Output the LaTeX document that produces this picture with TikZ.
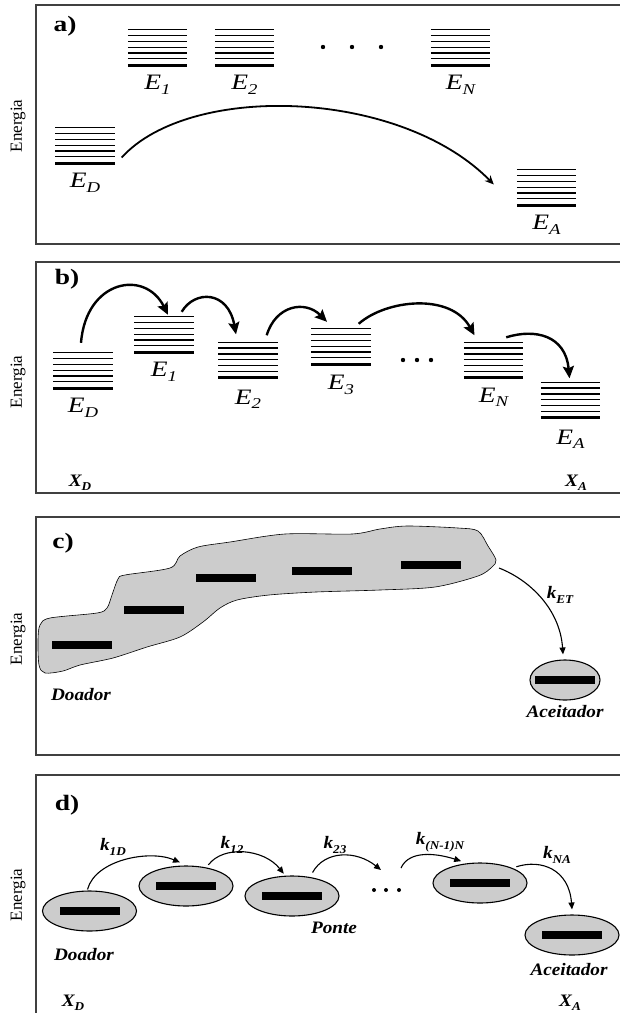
\documentclass[tikz,border=0pt]{standalone}
\usepackage{fontspec}
\setmainfont{Liberation Serif}[FakeStretch=1.25]
\newfontfamily\enfont{Liberation Serif}
\newfontfamily\bifont{Liberation Serif}[FakeStretch=1.1]
\usetikzlibrary{positioning, arrows.meta, calc, shapes.geometric}
\newcommand{\lsub}[2][15]{\raisebox{-4.5pt}{\fontsize{#1}{#1}\selectfont #2}}

\begin{document}
\begin{tikzpicture}[x=1pt,y=-1pt,
  lv/.style={minimum width=59pt,minimum height=35pt,inner sep=0pt},
  el/.style={font=\fontsize{22}{22}\selectfont\itshape,inner sep=0pt},
  tag/.style={font=\fontsize{22}{22}\selectfont\bfseries,inner sep=0pt},
  en/.style={font=\enfont\fontsize{17}{17}\selectfont,rotate=90,inner sep=0pt},
  bi/.style={font=\bifont\fontsize{17.5}{17.5}\selectfont\bfseries\itshape,inner sep=0pt},
  bar/.style={fill=black,minimum width=60pt,minimum height=8pt,inner sep=0pt},
  orb/.style={ellipse,draw,line width=1.1pt,fill=black!20,minimum width=94pt,minimum height=40pt,inner sep=0pt},
  panel/.style={draw=black!75,line width=1.2pt},
  far/.style={-{Stealth[length=9pt,width=8pt]},line width=1.8pt},
  hop/.style={-{Stealth[length=12pt,width=11pt,inset=2pt]},line width=2.4pt},
  jump/.style={-{Triangle[length=7pt,width=6pt]},line width=1.1pt}]
  \clip (0,0) rectangle (620,1013);
  \draw[panel] (640,5) -- (36,5) -- (36,244) -- (640,244);
  \draw[panel] (640,262) -- (36,262) -- (36,493) -- (640,493);
  \draw[panel] (640,517) -- (36,517) -- (36,755) -- (640,755);
  \draw[panel] (640,775) -- (36,775) -- (36,1030);
  \foreach \y in {126,382,639,895}
    \node[en] at (18,\y) {Energia};

  % a) levels far apart
  \node[tag] (ta) at (65,26) {a)};
  \node[lv] (a1) at (157.5,47.5) {};
  \node[lv] (a2) at (244.5,47.5) {};
  \node[lv] (aN) at (460.5,47.5) {};
  \node[lv] (aD) at (85,145.5) {};
  \node[lv] (aA) at (546.5,187.5) {};
  \foreach \x in {323,352,381}
    \fill (\x,47) circle (2.2);
  \node[el,below=10pt of a1] (la1) {E\lsub{1}};
  \node[el,below=10pt of a2] (la2) {E\lsub{2}};
  \node[el,below=10pt of aN] (laN) {E\lsub{N}};
  \node[el,below=10pt of aD] (laD) {E\lsub{D}};
  \node[el,below=10pt of aA] (laA) {E\lsub{A}};
  \draw[far] ([shift={(7,12)}]aD.east) .. controls +(68,-75) and +(-94,-96) .. ([shift={(-23,-3)}]aA.west);

  % b) hopping
  \node[tag] (tb) at (67,279) {b)};
  \node[lv] (bD) at (83,370.5) {};
  \node[lv] (b1) at (164,334.5) {};
  \node[lv] (b2) at (248,360) {};
  \node[lv] (b3) at (341,346.5) {};
  \node[lv] (bN) at (493.5,360) {};
  \node[lv] (bA) at (570.5,400) {};
  \foreach \x in {403,417,431}
    \fill (\x,360) circle (2.2);
  \node[el,below=10pt of bD] (lbD) {E\lsub{D}};
  \node[el,below=10pt of b1] (lb1) {E\lsub{1}};
  \node[el,below=12pt of b2] (lb2) {E\lsub{2}};
  \node[el,below=11pt of b3] (lb3) {E\lsub{3}};
  \node[el,below=10pt of bN] (lbN) {E\lsub{N}};
  \node[el,below=12pt of bA] (lbA) {E\lsub{A}};
  \node[bi] (xb1) at (80,483) {X\lsub[12]{D}};
  \node[bi] (xb2) at (576,483) {X\lsub[12]{A}};
  \draw[hop] ([shift={(-2,-10)}]bD.north) .. controls +(5,-63) and +(-23,-46) .. ([shift={(4,-2)}]b1.north);
  \draw[hop] ([shift={(-12,-5)}]b1.north east) .. controls +(13,-22) and +(-8,-44) .. ([shift={(-12,-8)}]b2.north);
  \draw[hop] ([shift={(-11,-7)}]b2.north east) .. controls +(9,-30) and +(-22,-22) .. ([shift={(-14,-7)}]b3.north);
  \draw[hop] ([shift={(-12,-5)}]b3.north east) .. controls +(27,-24) and +(-24,-43) .. ([shift={(-19,-7)}]bN.north);
  \draw[hop] ([shift={(-17,-5)}]bN.north east) .. controls +(29,-9) and +(-4,-43) .. ([shift={(-1,-4)}]bA.north);

  % c) delocalised donor
  \node[tag] (tc) at (63,543) {c)};
  \draw[fill=black!20,line width=0.6pt] plot[smooth cycle,tension=0.5] coordinates {
    (40,625) (50,618) (97,613) (107,608) (112,595) (118,579) (125,575) (170,568)
    (180,556) (198,547) (230,542) (285,534) (352,534) (380,529) (407,526) (458,528)
    (478,531) (488,546) (496,560) (492,567) (478,576) (435,587) (380,590) (316,592)
    (269,595) (237,600) (220,608) (203,622) (180,637) (147,647) (113,658) (80,665)
    (63,671) (45,673) (39,665) (38,640)};
  \coordinate (ctip) at (499,568);
  \node[bar] (c1) at (82,645) {};
  \node[bar] (c2) at (154,610) {};
  \node[bar] (c3) at (226,578) {};
  \node[bar] (c4) at (322,571) {};
  \node[bar] (c5) at (431,565) {};
  \node[orb,minimum width=70pt] (cA) at (565,680) {};
  \node[bar] (cAb) at (cA) {};
  \node[bi] (lcD) at (81,695) {Doador};
  \node[bi] (lcA) at (565,712) {Aceitador};
  \node[bi] (kET) at (560,595) {k\lsub[12]{ET}};
  \draw[jump] (ctip) .. controls +(31,12) and +(-3,-45) .. ([shift={(-2,-5)}]cA.north);

  % d) bridge of localised sites
  \node[tag] (td) at (67,805) {d)};
  \node[orb] (dD) at (89.5,911) {};
  \node[orb] (d1) at (186,886) {};
  \node[orb] (d2) at (292,896) {};
  \node[orb] (dN) at (480,883) {};
  \node[orb] (dA) at (572,935) {};
  \foreach \n in {dD,d1,d2,dN,dA}
    \node[bar] (\n b) at (\n) {};
  \foreach \x in {374,386,399}
    \fill (\x,890) circle (2);
  \coordinate (dg1) at (381,870);
  \coordinate (dg2) at (401,868);
  \node[bi] (k1D) at (113,847) {k\lsub[12]{1D}};
  \node[bi] (k12) at (232,845) {k\lsub[12]{12}};
  \node[bi] (k23) at (335,845) {k\lsub[12]{23}};
  \node[bi] (kNN) at (440,842) {k\lsub[12]{(N-1)N}};
  \node[bi] (kNA) at (557,855) {k\lsub[12]{NA}};
  \node[bi] (ldD) at (84,955) {Doador};
  \node[bi] (ldP) at (334,928) {Ponte};
  \node[bi] (ldA) at (569,970) {Aceitador};
  \node[bi] (xd1) at (73,1003) {X\lsub[12]{D}};
  \node[bi] (xd2) at (570,1003) {X\lsub[12]{A}};
  \draw[jump] ([shift={(-2,-1)}]dD.north) .. controls +(8,-30) and +(-30,-13) .. ([shift={(-6,-3)}]d1.north);
  \draw[jump] ([shift={(0,-3)}]d1.39) .. controls +(15,-20) and +(-20,-25) .. ([shift={(0,-2)}]d2.112);
  \draw[jump] ([shift={(0,-5)}]d2.42) .. controls +(12,-22) and +(-25,-20) .. (dg1);
  \draw[jump] (dg2) .. controls +(8,-18) and +(-25,-8) .. ([shift={(0,-3)}]dN.135);
  \draw[jump] ([shift={(0,-3)}]dN.20) .. controls +(25,-8) and +(-3,-40) .. ([shift={(0,-5)}]dA.north);

  % energy level stacks
  \foreach \n in {a1,a2,aN,aD,aA,bD,b1,b2,b3,bN,bA}{
    \foreach \i in {0,...,5}
      \draw[line width=1.3pt] ($(\n.north west)+(0,\i*5.8)$) -- ($(\n.north east)+(0,\i*5.8)$);
    \draw[line width=2.6pt] (\n.south west) -- (\n.south east);
  }
\end{tikzpicture}
\end{document}
